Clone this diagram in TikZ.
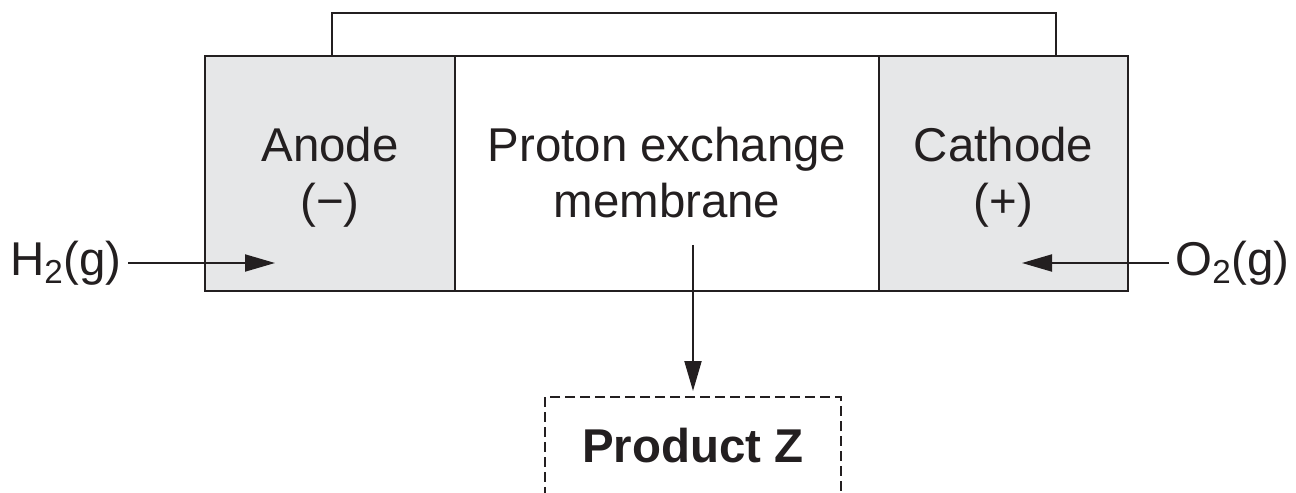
\documentclass[tikz,border=0pt]{standalone}
\usepackage{fontspec}
\setmainfont{Liberation Sans}
\usetikzlibrary{arrows.meta,positioning}
\definecolor{ink}{HTML}{231F20}
\definecolor{electrode}{HTML}{E6E7E8}

\begin{document}
\begin{tikzpicture}[
        x=0.02cm, y=-0.02cm,
        cell/.style={draw=ink, line width=1.4pt},
        wire/.style={draw=ink, line width=1.4pt, line join=miter},
        flow/.style={draw=ink, line width=1.1pt,
            -{Triangle[length=0.6cm,width=0.34cm]}},
        lbl/.style={text=ink, align=center,
            font=\fontsize{27}{31.9}\selectfont},
        gas/.style={text=ink, inner sep=0.12cm,
            font=\fontsize{27}{27.3}\selectfont},
        product/.style={draw=ink, line width=1.1pt,
            dash pattern=on 0.2cm off 0.1cm, text=ink,
            font=\fontsize{27}{27.3}\selectfont\bfseries,
            minimum width=5.92cm, minimum height=1.96cm, inner sep=0pt},
    ]
    \useasboundingbox (0,0) rectangle (1296,493);
    % external circuit
    \coordinate (wireA) at (332,56);
    \coordinate (wireC) at (1056,56);
    \draw[wire] (wireA) |- (wireC |- 0,13) -- (wireC);
    % cell
    \fill[electrode] (205,56) rectangle (455,291);
    \fill[electrode] (879,56) rectangle (1128,291);
    \draw[cell] (205,56) rectangle (1128,291);
    \draw[cell] (455,56) -- (455,291) (879,56) -- (879,291);
    \node[lbl] (anode) at (330,177.5) {Anode\\(−)};
    \node[lbl] (membrane) at (667,172.5) {Proton exchange\\membrane};
    \node[lbl] (cathode) at (1003.5,177.5) {Cathode\\(+)};
    % gases in
    \coordinate (anodeIn) at (275,263);
    \coordinate (cathodeIn) at (1022,263);
    \node[gas, anchor=east] (h2) at (128,263) {H\textsubscript{2}(g)};
    \node[gas, anchor=west] (o2) at (1169,263) {O\textsubscript{2}(g)};
    \draw[flow] (h2.east) -- (anodeIn);
    \draw[flow] (o2.west) -- (cathodeIn);
    % product out
    \coordinate (memOut) at (693,245);
    \node[product] (prodZ) at (693,446) {Product Z};
    \draw[flow, shorten >=0.1cm] (memOut) -- (prodZ.north);
\end{tikzpicture}
\end{document}
